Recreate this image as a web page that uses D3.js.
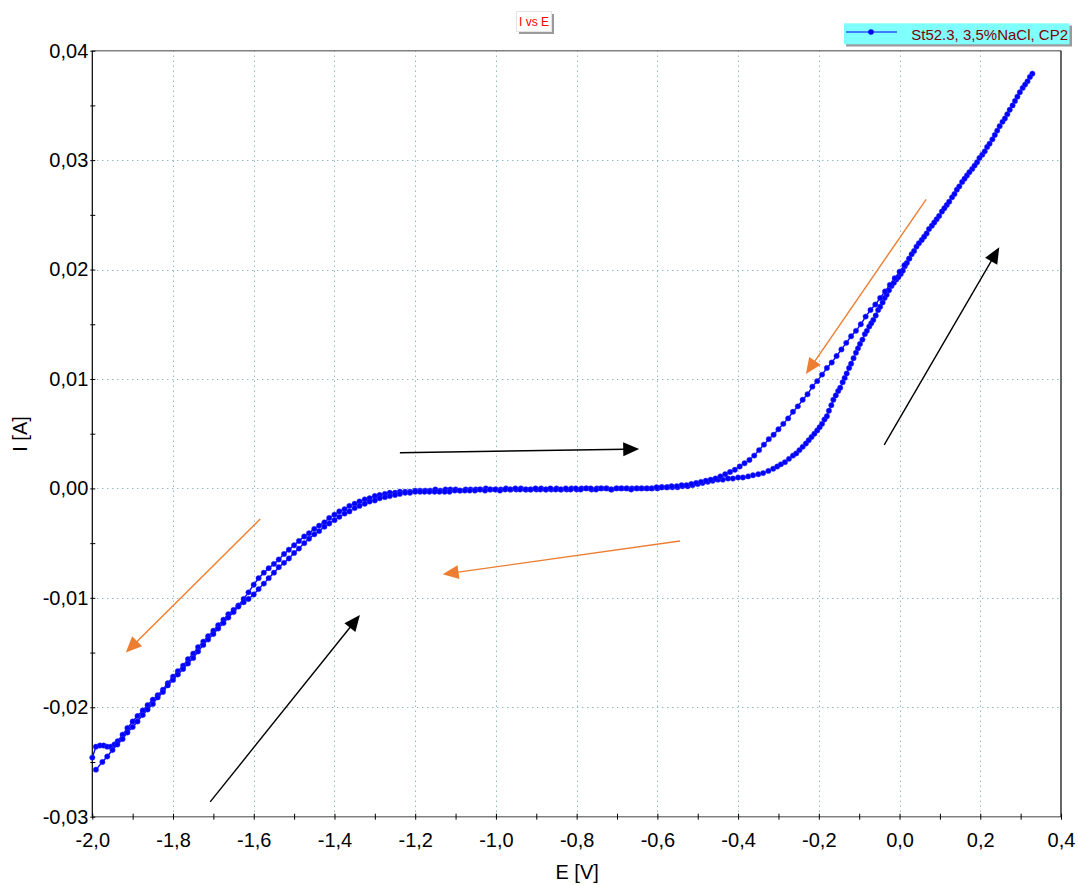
<!DOCTYPE html>
<html><head><meta charset="utf-8">
<script src="https://cdn.jsdelivr.net/npm/d3@7"></script>
<style>
body{margin:0;background:#fff}
svg{display:block;font-family:"Liberation Sans",Arial,sans-serif}
</style>
</head><body>
<svg id="chart" width="1078" height="885"></svg>
<script>
// ---------- data ----------
const chartTitle = "I vs E";
const seriesName = "St52.3, 3,5%NaCl, CP2";
const xLabel = "E [V]";
const yLabel = "I [A]";
const xTicks = [-2.0,-1.8,-1.6,-1.4,-1.2,-1.0,-0.8,-0.6,-0.4,-0.2,0.0,0.2,0.4];
const xMinorTicks = [-1.9,-1.7,-1.5,-1.3,-1.1,-0.9,-0.7,-0.5,-0.3,-0.1,0.1,0.3];
const yTicks = [-0.03,-0.02,-0.01,0.0,0.01,0.02,0.03,0.04];
const yMinorTicks = [-0.025,-0.015,-0.005,0.005,0.015,0.025,0.035];

// forward scan [E (V), I (A)]
const forwardScan = [
[-2.000,-0.0246],[-1.991,-0.0236],[-1.981,-0.0235],[-1.972,-0.0235],[-1.963,-0.0236],[-1.954,-0.0236],[-1.945,-0.0234],[-1.937,-0.0231],
[-1.925,-0.0225],[-1.913,-0.0219],[-1.900,-0.0213],[-1.888,-0.0208],[-1.875,-0.0203],[-1.863,-0.0198],[-1.850,-0.0193],[-1.838,-0.0189],
[-1.825,-0.0184],[-1.813,-0.0178],[-1.800,-0.0172],[-1.788,-0.0167],[-1.775,-0.0162],[-1.763,-0.0156],[-1.750,-0.0151],[-1.738,-0.0145],
[-1.725,-0.0140],[-1.713,-0.0135],[-1.700,-0.0130],[-1.688,-0.0125],[-1.675,-0.0120],[-1.663,-0.0115],[-1.650,-0.0111],[-1.638,-0.0107],
[-1.625,-0.0101],[-1.613,-0.0095],[-1.600,-0.0088],[-1.588,-0.0082],[-1.575,-0.0077],[-1.563,-0.0073],[-1.550,-0.0069],[-1.538,-0.0065],
[-1.525,-0.0060],[-1.513,-0.0056],[-1.500,-0.0052],[-1.488,-0.0048],[-1.475,-0.0044],[-1.463,-0.0041],[-1.450,-0.0037],[-1.438,-0.0034],
[-1.425,-0.0031],[-1.413,-0.0027],[-1.400,-0.0024],[-1.388,-0.0021],[-1.375,-0.0019],[-1.363,-0.0016],[-1.350,-0.0014],[-1.338,-0.0012],
[-1.325,-0.0010],[-1.313,-0.0009],[-1.300,-0.0007],[-1.288,-0.0006],[-1.275,-0.0005],[-1.263,-0.0004],[-1.250,-0.0004],[-1.238,-0.0003],
[-1.225,-0.0003],[-1.213,-0.0003],[-1.200,-0.0002],[-1.188,-0.0002],[-1.175,-0.0002],[-1.163,-0.0002],[-1.150,-0.0001],[-1.138,-0.0002],
[-1.125,-0.0001],[-1.113,-0.0001],[-1.100,-0.0001],[-1.088,-0.0002],[-1.075,-0.0001],[-1.063,-0.0001],[-1.050,-0.0001],[-1.038,-0.0001],
[-1.025,0.0000],[-1.013,-0.0001],[-1.000,-0.0001],[-0.988,-0.0001],[-0.975,0.0000],[-0.963,-0.0001],[-0.950,-0.0001],[-0.938,0.0000],
[-0.925,-0.0001],[-0.913,-0.0001],[-0.900,-0.0001],[-0.888,0.0000],[-0.875,-0.0001],[-0.863,-0.0001],[-0.850,0.0000],[-0.838,-0.0001],
[-0.825,-0.0001],[-0.813,0.0000],[-0.800,-0.0001],[-0.788,0.0000],[-0.775,0.0000],[-0.763,-0.0001],[-0.750,0.0000],[-0.738,0.0000],
[-0.725,0.0000],[-0.713,-0.0001],[-0.700,0.0000],[-0.688,0.0000],[-0.675,0.0000],[-0.663,0.0000],[-0.650,0.0000],[-0.638,0.0000],
[-0.625,0.0000],[-0.613,0.0000],[-0.600,0.0000],[-0.588,0.0001],[-0.575,0.0001],[-0.563,0.0001],[-0.550,0.0001],[-0.538,0.0002],
[-0.525,0.0002],[-0.513,0.0003],[-0.500,0.0004],[-0.488,0.0005],[-0.475,0.0006],[-0.463,0.0007],[-0.450,0.0008],[-0.438,0.0008],
[-0.425,0.0009],[-0.413,0.0009],[-0.400,0.0010],[-0.388,0.0010],[-0.375,0.0011],[-0.363,0.0012],[-0.350,0.0013],[-0.338,0.0014],
[-0.325,0.0016],[-0.313,0.0018],[-0.303,0.0020],[-0.294,0.0022],[-0.284,0.0024],[-0.274,0.0027],[-0.264,0.0030],[-0.256,0.0032],
[-0.248,0.0035],[-0.240,0.0038],[-0.232,0.0041],[-0.225,0.0044],[-0.218,0.0047],[-0.211,0.0050],[-0.204,0.0053],[-0.198,0.0056],
[-0.192,0.0059],[-0.186,0.0063],[-0.180,0.0066],[-0.175,0.0071],[-0.169,0.0076],[-0.164,0.0081],[-0.158,0.0085],[-0.152,0.0089],
[-0.147,0.0092],[-0.141,0.0097],[-0.136,0.0101],[-0.131,0.0105],[-0.125,0.0110],[-0.120,0.0114],[-0.114,0.0119],[-0.108,0.0124],
[-0.103,0.0128],[-0.098,0.0132],[-0.092,0.0136],[-0.086,0.0141],[-0.081,0.0144],[-0.075,0.0148],[-0.070,0.0151],[-0.065,0.0154],
[-0.059,0.0158],[-0.053,0.0163],[-0.048,0.0166],[-0.042,0.0170],[-0.037,0.0174],[-0.032,0.0177],[-0.026,0.0181],[-0.020,0.0185],
[-0.014,0.0188],[-0.008,0.0191],[-0.003,0.0193],[0.003,0.0196],[0.008,0.0199],[0.013,0.0203],[0.018,0.0206],[0.024,0.0210],
[0.030,0.0214],[0.042,0.0221],[0.055,0.0227],[0.067,0.0233],[0.080,0.0240],[0.092,0.0246],[0.105,0.0253],[0.117,0.0259],
[0.130,0.0266],[0.142,0.0273],[0.155,0.0280],[0.167,0.0286],[0.180,0.0292],[0.192,0.0298],[0.205,0.0305],[0.217,0.0312],
[0.230,0.0319],[0.242,0.0327],[0.255,0.0335],[0.267,0.0342],[0.280,0.0350],[0.292,0.0358],[0.305,0.0366],[0.317,0.0372],
[0.329,0.0379]
];

// reverse scan [E (V), I (A)]
const reverseScan = [
[0.323,0.0376],[0.311,0.0369],[0.298,0.0362],[0.286,0.0354],[0.273,0.0346],[0.261,0.0338],[0.248,0.0331],[0.236,0.0323],
[0.223,0.0315],[0.211,0.0308],[0.198,0.0302],[0.186,0.0295],[0.173,0.0289],[0.161,0.0283],[0.148,0.0276],[0.136,0.0269],
[0.123,0.0262],[0.111,0.0256],[0.098,0.0249],[0.086,0.0243],[0.073,0.0237],[0.061,0.0230],[0.048,0.0224],[0.036,0.0217],
[0.024,0.0210],[0.012,0.0204],[0.000,0.0198],[-0.012,0.0192],[-0.024,0.0186],[-0.036,0.0180],[-0.048,0.0174],[-0.060,0.0168],
[-0.072,0.0163],[-0.084,0.0157],[-0.096,0.0150],[-0.108,0.0144],[-0.120,0.0139],[-0.132,0.0133],[-0.144,0.0127],[-0.156,0.0121],
[-0.168,0.0115],[-0.180,0.0110],[-0.192,0.0104],[-0.204,0.0098],[-0.216,0.0093],[-0.228,0.0086],[-0.240,0.0081],[-0.252,0.0075],
[-0.264,0.0070],[-0.276,0.0064],[-0.288,0.0059],[-0.300,0.0054],[-0.312,0.0049],[-0.324,0.0045],[-0.336,0.0040],[-0.348,0.0035],
[-0.360,0.0030],[-0.372,0.0026],[-0.384,0.0023],[-0.396,0.0020],[-0.408,0.0017],[-0.420,0.0015],[-0.432,0.0013],[-0.444,0.0011],
[-0.456,0.0009],[-0.468,0.0008],[-0.480,0.0007],[-0.492,0.0006],[-0.504,0.0005],[-0.516,0.0004],[-0.528,0.0003],[-0.540,0.0003],
[-0.552,0.0002],[-0.565,0.0002],[-0.577,0.0001],[-0.590,0.0001],[-0.602,0.0001],[-0.615,0.0000],[-0.627,0.0000],[-0.640,0.0000],
[-0.652,0.0000],[-0.665,-0.0001],[-0.677,0.0000],[-0.690,0.0000],[-0.702,0.0000],[-0.715,-0.0001],[-0.727,0.0000],[-0.740,0.0000],
[-0.752,-0.0001],[-0.765,0.0000],[-0.777,0.0000],[-0.790,-0.0001],[-0.802,0.0000],[-0.815,-0.0001],[-0.827,0.0000],[-0.840,-0.0001],
[-0.852,-0.0001],[-0.865,0.0000],[-0.877,-0.0001],[-0.890,-0.0001],[-0.902,0.0000],[-0.915,-0.0001],[-0.927,-0.0001],[-0.940,-0.0001],
[-0.952,0.0000],[-0.965,-0.0001],[-0.977,-0.0001],[-0.990,-0.0002],[-1.002,-0.0001],[-1.015,-0.0001],[-1.027,-0.0002],[-1.040,-0.0001],
[-1.052,-0.0002],[-1.065,-0.0002],[-1.077,-0.0002],[-1.090,-0.0002],[-1.102,-0.0002],[-1.115,-0.0003],[-1.127,-0.0003],[-1.140,-0.0003],
[-1.152,-0.0003],[-1.165,-0.0003],[-1.177,-0.0003],[-1.188,-0.0003],[-1.200,-0.0003],[-1.213,-0.0004],[-1.225,-0.0004],[-1.238,-0.0005],
[-1.250,-0.0006],[-1.263,-0.0007],[-1.275,-0.0008],[-1.288,-0.0009],[-1.300,-0.0011],[-1.313,-0.0012],[-1.325,-0.0014],[-1.338,-0.0016],
[-1.350,-0.0018],[-1.363,-0.0021],[-1.375,-0.0023],[-1.388,-0.0026],[-1.400,-0.0029],[-1.413,-0.0032],[-1.425,-0.0035],[-1.438,-0.0039],
[-1.450,-0.0042],[-1.463,-0.0046],[-1.475,-0.0050],[-1.488,-0.0055],[-1.500,-0.0059],[-1.513,-0.0064],[-1.525,-0.0068],[-1.538,-0.0072],
[-1.550,-0.0077],[-1.563,-0.0082],[-1.575,-0.0087],[-1.588,-0.0092],[-1.600,-0.0097],[-1.613,-0.0101],[-1.625,-0.0104],[-1.638,-0.0108],
[-1.650,-0.0113],[-1.663,-0.0118],[-1.675,-0.0123],[-1.688,-0.0128],[-1.700,-0.0133],[-1.713,-0.0138],[-1.725,-0.0143],[-1.738,-0.0149],
[-1.750,-0.0155],[-1.763,-0.0160],[-1.775,-0.0165],[-1.788,-0.0170],[-1.800,-0.0175],[-1.813,-0.0180],[-1.825,-0.0186],[-1.838,-0.0191],
[-1.850,-0.0197],[-1.863,-0.0202],[-1.875,-0.0207],[-1.888,-0.0213],[-1.900,-0.0218],[-1.913,-0.0223],[-1.925,-0.0229],[-1.938,-0.0234],
[-1.950,-0.0239],[-1.963,-0.0245],[-1.975,-0.0250],[-1.991,-0.0257]
];

// annotation arrows (data coordinates)
const arrowColors = ["#000000","#000000","#000000","#ed7d31","#ed7d31","#ed7d31"];
const arrowFromE = [-1.708,-1.238,-0.038,-1.584,-0.544,0.066];
const arrowFromI = [-0.02865,0.00326,0.00397,-0.0028,-0.0048,0.02642];
const arrowToE   = [-1.337,-0.645,0.247,-1.917,-1.132,-0.232];
const arrowToI   = [-0.01157,0.0036,0.02203,-0.0150,-0.00785,0.01045];

// ---------- drawing ----------
const svg = d3.select("#chart");
const L = 92.3, R = 1061, T = 50.7, B = 816.7;
const x = d3.scaleLinear().domain([-2.0, 0.4]).range([L, R]);
const y = d3.scaleLinear().domain([-0.03, 0.04]).range([B, T]);
const loc = d3.formatLocale({decimal: ",", thousands: ".", grouping: [3], currency: ["", ""], minus: "-"});
const fmtX = loc.format(".1f");
const fmtY = loc.format(".2f");

// grid
const grid = svg.append("g").attr("stroke", "#5f9c9c").attr("stroke-width", 1).attr("stroke-dasharray", "1,4");
grid.selectAll("line.gx").data(xTicks.filter(d => d > -2 && d < 0.4)).join("line")
  .attr("x1", d => Math.round(x(d)) + 0.5).attr("x2", d => Math.round(x(d)) + 0.5)
  .attr("y1", T).attr("y2", B);
grid.selectAll("line.gy").data(yTicks.filter(d => d > -0.03 && d < 0.04)).join("line")
  .attr("y1", d => Math.round(y(d)) + 0.5).attr("y2", d => Math.round(y(d)) + 0.5)
  .attr("x1", L).attr("x2", R);

// frame
svg.append("line").attr("x1", L).attr("x2", R).attr("y1", T).attr("y2", T).attr("stroke", "#808080").attr("stroke-width", 1.5);
svg.append("line").attr("x1", L).attr("x2", R).attr("y1", B).attr("y2", B).attr("stroke", "#808080").attr("stroke-width", 1.5);
svg.append("line").attr("x1", L).attr("x2", L).attr("y1", T).attr("y2", B).attr("stroke", "#000").attr("stroke-width", 1.2);
svg.append("line").attr("x1", R).attr("x2", R).attr("y1", T).attr("y2", B).attr("stroke", "#000").attr("stroke-width", 1.2);

// axes
function styleAxis(g) {
  g.select(".domain").remove();
  g.selectAll(".tick line").attr("stroke", "#000").attr("stroke-width", 1);
  g.selectAll("text").attr("fill", "#000").style("font-size", "20px").style("font-family", '"Liberation Sans",Arial,sans-serif');
}
svg.append("g").attr("transform", `translate(0,${B - 3})`)
  .call(d3.axisBottom(x).tickValues(xTicks).tickSize(6).tickPadding(13).tickFormat(fmtX)).call(styleAxis);
svg.append("g").attr("transform", `translate(0,${B - 3})`)
  .call(d3.axisBottom(x).tickValues(xMinorTicks).tickSize(6).tickFormat("")).call(styleAxis);
svg.append("g").attr("transform", `translate(${L + 3},0)`)
  .call(d3.axisLeft(y).tickValues(yTicks).tickSize(5).tickPadding(2).tickFormat(fmtY)).call(styleAxis);
svg.append("g").attr("transform", `translate(${L + 3},0)`)
  .call(d3.axisLeft(y).tickValues(yMinorTicks).tickSize(5).tickFormat("")).call(styleAxis);

// axis labels
svg.append("text").attr("x", (L + R) / 2 + 0.5).attr("y", 879).attr("text-anchor", "middle")
  .style("font-size", "20px").attr("fill", "#000").text(xLabel);
svg.append("text").attr("transform", "translate(27,434) rotate(-90)").attr("text-anchor", "middle")
  .style("font-size", "20px").attr("fill", "#000").text(yLabel);

// series
const line = d3.line().x(d => x(d[0])).y(d => y(d[1]));
const allPts = forwardScan.concat(reverseScan);
svg.append("path").datum(allPts).attr("d", line).attr("fill", "none")
  .attr("stroke", "#0000ff").attr("stroke-width", 1.4);
svg.append("g").selectAll("circle").data(allPts).join("circle")
  .attr("cx", d => x(d[0])).attr("cy", d => y(d[1])).attr("r", 2.7)
  .attr("fill", "#0000ff").attr("stroke", "rgba(60,60,255,0.45)").attr("stroke-width", 1);

// arrows
const arrows = svg.append("g");
arrowColors.forEach((c, i) => {
  const x1 = x(arrowFromE[i]), y1 = y(arrowFromI[i]), x2 = x(arrowToE[i]), y2 = y(arrowToI[i]);
  const dx = x2 - x1, dy = y2 - y1, len = Math.hypot(dx, dy), ux = dx / len, uy = dy / len;
  const hl = 16, hw = 7;
  const bx = x2 - ux * hl, by = y2 - uy * hl;
  arrows.append("line").attr("x1", x1).attr("y1", y1).attr("x2", bx + ux * 2).attr("y2", by + uy * 2)
    .attr("stroke", c).attr("stroke-width", 1.4);
  arrows.append("polygon")
    .attr("points", `${x2},${y2} ${bx - uy * hw},${by + ux * hw} ${bx + uy * hw},${by - ux * hw}`)
    .attr("fill", c);
});

// title box
const tg = svg.append("g");
tg.append("rect").attr("x", 519).attr("y", 14).attr("width", 35).attr("height", 20).attr("fill", "#9a9a9a");
tg.append("rect").attr("x", 516.5).attr("y", 11.5).attr("width", 35).attr("height", 20).attr("fill", "#fff").attr("stroke", "#e4e4e4");
tg.append("text").attr("x", 534).attr("y", 26).attr("text-anchor", "middle").style("font-size", "12px")
  .attr("fill", "#ff0000").text(chartTitle);

// legend
const lg = svg.append("g");
lg.append("rect").attr("x", 846).attr("y", 25.5).attr("width", 226).attr("height", 21).attr("fill", "#9a9a9a");
lg.append("rect").attr("x", 844).attr("y", 23.3).attr("width", 225.5).attr("height", 21).attr("fill", "#80ffff");
lg.append("line").attr("x1", 846).attr("x2", 897).attr("y1", 32).attr("y2", 32).attr("stroke", "#0000ff").attr("stroke-width", 1.2);
lg.append("circle").attr("cx", 871).attr("cy", 32).attr("r", 2.8).attr("fill", "#0000ff");
lg.append("text").attr("x", 1068).attr("y", 39.5).attr("text-anchor", "end").style("font-size", "15px")
  .attr("fill", "#800000").text(seriesName);
</script>
</body></html>
